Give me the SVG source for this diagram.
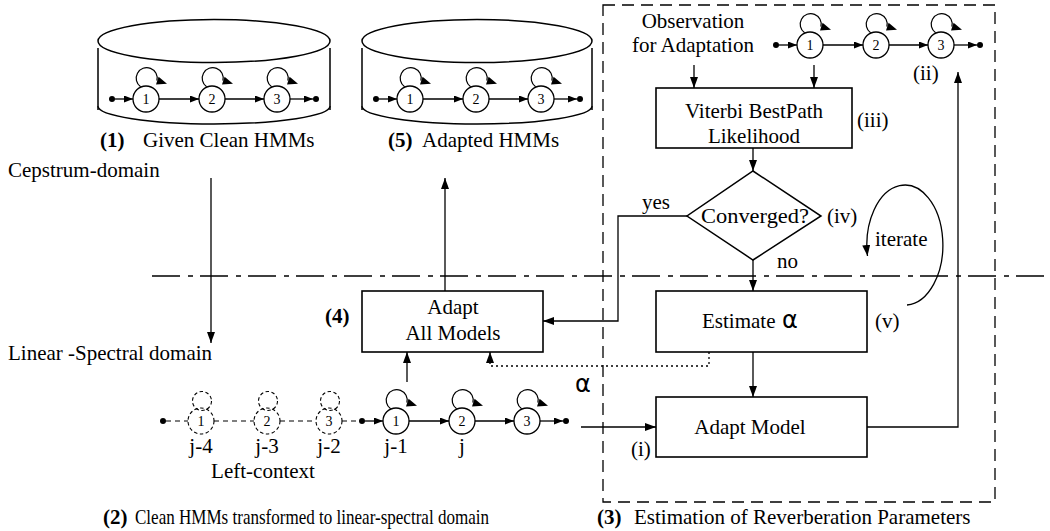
<svg xmlns="http://www.w3.org/2000/svg" width="1050" height="531" viewBox="0 0 1050 531">
  <style>
    .ln { stroke: #000; stroke-width: 1.3; fill: none; }
    .box { fill: #fff; stroke: #000; stroke-width: 1.6; }
    .cyl { fill: #fff; stroke: #000; stroke-width: 1.5; }
    .st { fill: #fff; stroke: #000; stroke-width: 1.3; }
    .dst { fill: none; stroke: #000; stroke-width: 1.1; stroke-dasharray: 3.5 2.5; }
    .dl { stroke: #000; stroke-width: 1.1; fill: none; stroke-dasharray: 5 4; }
    .dot { fill: #000; }
    .t { font-family: "Liberation Serif", "Times New Roman", serif; font-size: 21px; fill: #000; }
    .b { font-weight: bold; }
    .m { text-anchor: middle; }
    .n { font-family: "Liberation Serif", "Times New Roman", serif; font-size: 14px; text-anchor: middle; fill: #000; }
    .alpha { font-family: "DejaVu Sans", sans-serif; font-size: 24px; fill: #000; }
  </style>
  <defs>
    <marker id="ah" markerUnits="userSpaceOnUse" markerWidth="10" markerHeight="8" refX="9" refY="3.5" orient="auto">
      <path d="M0,0 L9,3.5 L0,7 z" fill="#000"/>
    </marker>
    <marker id="fa" markerUnits="userSpaceOnUse" markerWidth="12" markerHeight="9" refX="11" refY="4" orient="auto">
      <path d="M0,0 L11,4 L0,8 z" fill="#000"/>
    </marker>
    <!-- self transition loop drawn above a state -->
    <g id="loop">
      <path d="M-5.4,-12.3 A10.5,10.5 0 1 1 10.9,-18.3" fill="none" stroke="#000" stroke-width="1.2"/>
      <polygon points="21,-15.2 10,-14.6 12.6,-22.2" fill="#000"/>
    </g>
    <g id="dloop">
      <circle cx="1" cy="-20" r="9.5" fill="none" stroke="#000" stroke-width="1.1" stroke-dasharray="3.5 2.5"/>
    </g>
    <!-- three-state left-to-right HMM, origin at the entry dot -->
    <g id="hmm3">
      <circle class="dot" cx="0" cy="0" r="3"/>
      <path class="ln" d="M3,0H21" marker-end="url(#ah)"/>
      <path class="ln" d="M47,0H87" marker-end="url(#ah)"/>
      <path class="ln" d="M113,0H152" marker-end="url(#ah)"/>
      <path class="ln" d="M178,0H201" marker-end="url(#ah)"/>
      <circle class="dot" cx="204" cy="0" r="3"/>
      <use href="#loop" x="34" y="0"/>
      <use href="#loop" x="100" y="0"/>
      <use href="#loop" x="165" y="0"/>
      <circle class="st" cx="34" cy="0" r="13"/>
      <circle class="st" cx="100" cy="0" r="13"/>
      <circle class="st" cx="165" cy="0" r="13"/>
      <text class="n" x="34" y="5">1</text>
      <text class="n" x="100" y="5">2</text>
      <text class="n" x="165" y="5">3</text>
    </g>
  </defs>

  <rect width="1050" height="531" fill="#fff"/>

  <!-- region divider between cepstral and linear-spectral domains -->
  <path d="M152,276H1050" stroke="#000" stroke-width="1.3" stroke-dasharray="28 8 5 7"/>

  <!-- estimation frame -->
  <rect id="estimation-frame" x="603" y="5" width="392" height="497" fill="none" stroke="#000" stroke-width="1.3" stroke-dasharray="12 7"/>

  <!-- clean HMM database -->
  <g id="clean-hmms">
    <path class="cyl" d="M98,48V110 M330,48V110"/>
    <path class="cyl" d="M98,106 A116,18 0 0 0 330,106" fill="none"/>
    <ellipse class="cyl" cx="214" cy="41" rx="116" ry="21.5"/>
    <use href="#hmm3" x="112" y="99"/>
    <text class="t b" x="100" y="147">(1)</text>
    <text class="t" x="143" y="147">Given Clean HMMs</text>
  </g>

  <!-- adapted HMM database -->
  <g id="adapted-hmms">
    <path class="cyl" d="M362,48V110 M592,48V110"/>
    <path class="cyl" d="M362,106 A115,18 0 0 0 592,106" fill="none"/>
    <ellipse class="cyl" cx="477" cy="41" rx="115" ry="21.5"/>
    <use href="#hmm3" x="376" y="99"/>
    <text class="t b" x="388" y="147">(5)</text>
    <text class="t" x="422" y="147">Adapted HMMs</text>
  </g>

  <g id="domain-labels">
    <text class="t" x="8" y="177">Cepstrum-domain</text>
    <text class="t" x="8" y="360">Linear -Spectral domain</text>
  </g>

  <g id="observation">
    <text class="t m" x="693" y="28">Observation</text>
    <text class="t m" x="693" y="52">for Adaptation</text>
  </g>

  <g id="reference-hmm">
    <use href="#hmm3" x="776" y="45"/>
    <text class="t" x="913" y="80">(ii)</text>
  </g>

  <g id="viterbi">
    <rect class="box" x="656" y="88" width="196" height="60"/>
    <text class="t m" x="754" y="118">Viterbi BestPath</text>
    <text class="t m" x="754" y="143">Likelihood</text>
    <text class="t" x="857" y="127">(iii)</text>
  </g>

  <g id="converged">
    <polygon points="753,171 821,216 753,260 687,216" fill="#fff" stroke="#000" stroke-width="1.5"/>
    <text class="t" x="701" y="223" textLength="108" lengthAdjust="spacingAndGlyphs">Converged?</text>
    <text class="t" x="827" y="223">(iv)</text>
  </g>

  <g id="estimate-alpha">
    <rect class="box" x="656" y="291" width="211" height="61"/>
    <text class="t" x="702" y="328">Estimate</text>
    <text class="alpha" x="782" y="328">α</text>
    <text class="t" x="875" y="328">(v)</text>
  </g>

  <g id="adapt-model">
    <rect class="box" x="656" y="397" width="211" height="60"/>
    <text class="t m" x="750" y="434">Adapt Model</text>
    <text class="t" x="631" y="456">(i)</text>
  </g>

  <g id="adapt-all">
    <rect class="box" x="362" y="291" width="181" height="61"/>
    <text class="t m" x="453" y="314">Adapt</text>
    <text class="t m" x="453" y="340">All Models</text>
    <text class="t b" x="325" y="323">(4)</text>
  </g>

  <!-- context-dependent chain in the linear-spectral domain -->
  <g id="context-chain">
    <circle class="dot" cx="163" cy="421" r="3"/>
    <path class="dl" d="M166,421H188 M214,421H254 M280,421H316 M342,421H356"/>
    <use href="#dloop" x="201" y="421"/>
    <use href="#dloop" x="267" y="421"/>
    <use href="#dloop" x="329" y="421"/>
    <circle class="dst" cx="201" cy="421" r="13"/>
    <circle class="dst" cx="267" cy="421" r="13"/>
    <circle class="dst" cx="329" cy="421" r="13"/>
    <text class="n" x="201" y="426">1</text>
    <text class="n" x="267" y="426">2</text>
    <text class="n" x="329" y="426">3</text>
    <use href="#hmm3" x="362" y="421"/>
    <text class="t m" x="201" y="453">j-4</text>
    <text class="t m" x="267" y="453">j-3</text>
    <text class="t m" x="329" y="453">j-2</text>
    <text class="t m" x="396" y="453">j-1</text>
    <text class="t m" x="462" y="453">j</text>
    <text class="t m" x="263" y="478">Left-context</text>
  </g>

  <g id="connectors">
    <path class="ln" d="M211,178V343" marker-end="url(#fa)"/>
    <path class="ln" d="M445,291V178" marker-end="url(#fa)"/>
    <path class="ln" d="M694,65V88" marker-end="url(#fa)"/>
    <path class="ln" d="M814,65V88" marker-end="url(#fa)"/>
    <path class="ln" d="M753,148V171" marker-end="url(#fa)"/>
    <path class="ln" d="M753,260V291" marker-end="url(#fa)"/>
    <path class="ln" d="M753,352V397" marker-end="url(#fa)"/>
    <path class="ln" d="M687,216H618V321H543" marker-end="url(#fa)"/>
    <path class="ln" d="M867,427H958V72" marker-end="url(#fa)"/>
    <path class="ln" d="M581,427H656" marker-end="url(#fa)"/>
    <path class="ln" d="M407,382V352" marker-end="url(#fa)"/>
    <path class="ln" d="M709,352V366H490V352" stroke-dasharray="2 3" marker-end="url(#fa)"/>
    <path class="ln" d="M907,305 A38,60 0 1 0 867.5,256" marker-end="url(#fa)"/>
    <text class="t" x="642" y="209">yes</text>
    <text class="t" x="777" y="268">no</text>
    <text class="t" x="875" y="246">iterate</text>
    <text class="alpha" x="575" y="392">α</text>
  </g>

  <g id="captions">
    <text class="t b" x="103" y="524">(2)</text>
    <text class="t" x="135" y="524" textLength="354" lengthAdjust="spacingAndGlyphs">Clean HMMs transformed to linear-spectral domain</text>
    <text class="t b" x="597" y="524">(3)</text>
    <text class="t" x="634" y="524">Estimation of Reverberation Parameters</text>
  </g>
</svg>
